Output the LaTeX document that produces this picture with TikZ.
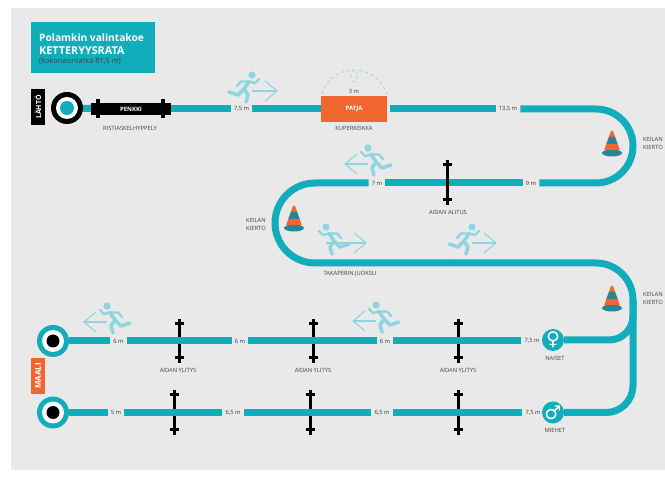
\documentclass[tikz,border=0pt]{standalone}
\usepackage{fontspec}
\setmainfont{Open Sans}
\newfontfamily\merkki{DejaVu Sans}

\definecolor{tausta}{HTML}{E9E9EA}
\definecolor{turkoosi}{HTML}{12ADBB}
\definecolor{vaalea}{HTML}{8FD5DF}
\definecolor{orange}{HTML}{F0662F}
\definecolor{tumma}{HTML}{2A8496}

\tikzset{
  rata/.style={line width=7pt, turkoosi},
  pieni/.style={font=\fontsize{5.8}{8}\selectfont, text=black!75, inner sep=0pt, align=left},
  matka/.style={font=\fontsize{5.8}{7}\selectfont, text=black!80, inner sep=3pt, minimum height=8pt},
  ympyra/.style={circle, inner sep=0pt},
  aita/.style={line width=3pt, black},
  juoksu/.style={line width=3.6pt, vaalea, line cap=round, line join=round},
  nuoli/.style={line width=1.1pt, vaalea},
}

% keila: x, huippu y
\newcommand{\keila}[2]{
  \pgfmathsetmacro{\xc}{#1};
  \pgfmathsetmacro{\yc}{#2};
  \fill [tumma] (\xc, \yc+22) ellipse (10 and 3.5);
  \fill [orange] (\xc-1, \yc) -- (\xc+1, \yc) -- (\xc+3.2, \yc+6) -- (\xc-3.2, \yc+6) -- cycle;
  \fill [tumma] (\xc-3.2, \yc+6) -- (\xc+3.2, \yc+6) -- (\xc+5.7, \yc+13) -- (\xc-5.7, \yc+13) -- cycle;
  \fill [orange] (\xc-5.7, \yc+13) -- (\xc+5.7, \yc+13) -- (\xc+7.8, \yc+19) -- (\xc-7.8, \yc+19) -- cycle;
}

% juoksija: paan x, paan y, suunta, nuolen karki
\newcommand{\juoksija}[4]{
  \begin{scope}[shift={(#1, #2)}]
    \draw [nuoli] (0, 16) -- (#4, 16);
    \pgfmathsetmacro{\kanta}{#4 - 12 * sign(#4)};
    \draw [nuoli] (\kanta, 6) -- (#4, 16) -- (\kanta, 26);
    \begin{scope}[xscale=#3]
      \fill [vaalea] (0, 0) circle (3.6);
      \draw [juoksu] (-3, 6.5) -- (-8, 14) -- (-4, 20) -- (-6, 27);
      \draw [juoksu] (-8, 14) -- (-14, 20) -- (-23, 17);
      \draw [juoksu, line width=2.4pt] (-3, 6.5) -- (3, 8) -- (7, 4);
      \draw [juoksu, line width=2.4pt] (-3, 6.5) -- (-11, 6.5) -- (-15, 11);
    \end{scope}
  \end{scope}
}

\newcommand{\aidake}[3]{
  \draw [aita] (#1, #2) -- (#1, #3);
  \draw [aita] (#1-4.5, #2+5) -- (#1+4.5, #2+5);
  \draw [aita] (#1-4.5, #3-5) -- (#1+4.5, #3-5);
}

\begin{document}
\begin{tikzpicture}[x=1pt, y=-1pt]
  \useasboundingbox (0, 0) rectangle (665, 478);
  \fill [white] (0, 0) rectangle (665, 478);
  \fill [tausta] (11, 8) rectangle (665, 470);

  \node (otsikko) [fill=turkoosi, minimum width=124pt, minimum height=51pt, inner sep=0pt] at (93, 48) {};
  \node (otsikko1) [anchor=west, inner sep=0pt, text=white, font=\fontsize{10.2}{12}\selectfont\bfseries] at (39, 37.5) {Polamkin valintakoe};
  \node (otsikko2) [anchor=west, inner sep=0pt, text=white, font=\fontsize{10.8}{12}\selectfont\bfseries] at (39, 50.5) {KETTERYYSRATA};
  \node (otsikko3) [anchor=west, inner sep=0pt, text=black!75, font=\fontsize{7.4}{8}\selectfont] at (39, 61.5) {(kokonaismatka 81,5 m)};

  \node (lahtokyltti) [fill=black, text=white, rotate=90, minimum width=36pt, minimum height=14pt, inner sep=0pt, font=\fontsize{7}{7}\selectfont\bfseries] at (38, 107) {LÄHTÖ};
  \node (maalikyltti) [fill=orange, text=white, rotate=90, minimum width=36pt, minimum height=14pt, inner sep=0pt, font=\fontsize{8}{8}\selectfont\bfseries] at (38, 376) {MAALI};

  % aidat ennen rataa
  \aidake{179}{319}{363}
  \aidake{313}{319}{363}
  \aidake{458}{319}{363}
  \aidake{174}{390}{435}
  \aidake{310}{390}{435}
  \aidake{458}{390}{435}

  % solmut
  \node (lahto) [ympyra, fill=black, minimum size=32pt] at (67, 108) {};
  \node (penkki) [fill=black, text=white, minimum width=80pt, minimum height=12pt, inner sep=0pt, font=\fontsize{6}{6}\selectfont\bfseries] at (131, 109) {PENKKI};
  \node (m75a) [matka] at (241.5, 109) {7,5 m};
  \node (patja) [fill=orange, text=white, minimum width=66pt, minimum height=26pt, inner sep=0pt, font=\fontsize{6}{6}\selectfont\bfseries] at (354, 109) {PATJA};
  \node (m135) [matka] at (508, 109) {13,5 m};
  \node (m9) [matka] at (531, 183) {9 m};
  \node (m7) [matka] at (377, 183) {7 m};
  \node (naiset) [ympyra, fill=turkoosi, minimum size=22pt, text=white, font=\fontsize{19}{19}\merkki] at (553, 340) {♀};
  \node (miehet) [ympyra, fill=turkoosi, minimum size=22pt, text=white, font=\fontsize{19}{19}\merkki] at (553, 412.5) {♂};
  \node (m75b) [matka] at (532, 341) {7,5 m};
  \node (m6c) [matka] at (385, 341) {6 m};
  \node (m6b) [matka] at (240, 341) {6 m};
  \node (m6a) [matka] at (118.5, 341) {6 m};
  \node (m75c) [matka] at (533, 412.5) {7,5 m};
  \node (m65b) [matka] at (382, 412.5) {6,5 m};
  \node (m65a) [matka] at (233, 412.5) {6,5 m};
  \node (m5) [matka] at (116, 412.5) {5 m};
  \node (maali1) [ympyra, fill=turkoosi, minimum size=32pt] at (53, 341) {};
  \node (maali2) [ympyra, fill=turkoosi, minimum size=32pt] at (53, 412.5) {};

  \coordinate (k1) at (633, 109);
  \coordinate (k2) at (633, 183);
  \coordinate (k3) at (275, 183);
  \coordinate (k4) at (275, 263);
  \coordinate (k5) at (450, 263);
  \coordinate (k6) at (633, 263);
  \coordinate (k7) at (633, 412.5);
  \coordinate (k8) at (633, 340);
  \coordinate (k9) at (633, 300);

  \draw [rata] (lahto) -- (penkki);
  \draw [rata] (penkki) -- (m75a);
  \draw [rata] (m75a) -- (patja);
  \draw [rata, shorten <=3pt] (patja) -- (m135);
  \draw [rata, rounded corners=37pt] (m135) -- (k1) -- (k2) -- (m9);
  \draw [rata] (m9) -- (m7);
  \draw [rata, rounded corners=40pt] (m7) -- (k3) -- (k4) -- (k5);
  \draw [rata, rounded corners=37pt] (k5) -- (k6) -- (k9);
  \draw [rata, rounded corners=27pt] (k9) -- (k7) -- (miehet);
  \draw [rata, rounded corners=24pt] (naiset) -- (k8) -- (k9);
  \draw [rata] (m75b) -- (m6c);
  \draw [rata] (m6c) -- (m6b);
  \draw [rata] (m6b) -- (m6a);
  \draw [rata] (m6a) -- (maali1);
  \draw [rata] (m75c) -- (m65b);
  \draw [rata] (m65b) -- (m65a);
  \draw [rata] (m65a) -- (m5);
  \draw [rata] (m5) -- (maali2);

  \fill [black] (96, 99) rectangle (100, 118);
  \fill [black] (161, 99) rectangle (165, 118);

  \node (lahto1) [ympyra, fill=white, minimum size=22pt] at (lahto) {};
  \node (lahto2) [ympyra, fill=turkoosi, minimum size=14pt] at (lahto) {};
  \node (maali1a) [ympyra, fill=white, minimum size=22pt] at (maali1) {};
  \node (maali1b) [ympyra, fill=black, minimum size=13pt] at (maali1) {};
  \node (maali2a) [ympyra, fill=white, minimum size=22pt] at (maali2) {};
  \node (maali2b) [ympyra, fill=black, minimum size=13pt] at (maali2) {};

  \aidake{447}{160}{205}

  \draw [dashed, vaalea, line width=0.7pt] (322, 94) .. controls (332, 62) and (376, 62) .. (387, 94);
  \draw [dashed, vaalea, line width=0.7pt] (354, 76) ellipse (3 and 6);

  \keila{612}{131}
  \keila{294}{206}
  \keila{612}{286}

  \juoksija{252}{75}{1}{25}
  \juoksija{368}{148}{-1}{-23}
  \juoksija{326}{227}{-1}{40}
  \juoksija{472}{227}{1}{24}
  \juoksija{107}{306}{-1}{-23}
  \juoksija{376}{305}{-1}{-23}

  \node (ristiaskel) [pieni] at (130, 128) {RISTIASKELHYPPELY};
  \node (kolme) [pieni] at (354, 91) {3 m};
  \node (kuperkeikka) [pieni] at (354, 128) {KUPERKEIKKA};
  \node (alitus) [pieni] at (448, 212) {AIDAN ALITUS};
  \node (takaperin) [pieni] at (350, 274) {TAKAPERIN JUOKSU};
  \node (keilan1) [pieni] at (653, 143) {KEILAN\\KIERTO};
  \node (keilan2) [pieni] at (256, 224) {KEILAN\\KIERTO};
  \node (keilan3) [pieni] at (653, 298) {KEILAN\\KIERTO};
  \node (ylitys1) [pieni] at (178, 370) {AIDAN YLITYS};
  \node (ylitys2) [pieni] at (313, 370) {AIDAN YLITYS};
  \node (ylitys3) [pieni] at (458, 370) {AIDAN YLITYS};
  \node (naisetteksti) [pieni] at (555, 358.5) {NAISET};
  \node (miehetteksti) [pieni] at (555, 430.5) {MIEHET};
\end{tikzpicture}
\end{document}
